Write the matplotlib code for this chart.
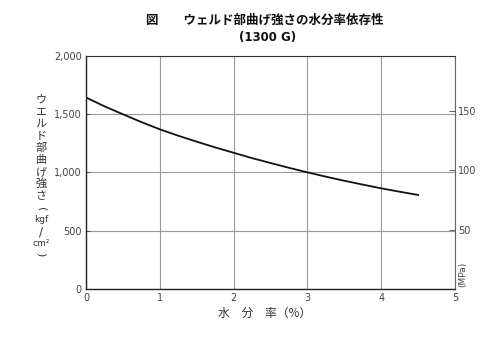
import matplotlib
matplotlib.use("Agg")
import matplotlib.pyplot as plt
from matplotlib.ticker import FixedLocator, FuncFormatter

plt.rcParams['font.family'] = ['Noto Sans CJK JP', 'DejaVu Sans']

# Data
moisture = [0, 0.25, 0.5, 0.75, 1.0, 1.25, 1.5, 1.75, 2.0, 2.25, 2.5, 2.75,
            3.0, 3.25, 3.5, 3.75, 4.0, 4.25, 4.5]
strength = [1642, 1566, 1498, 1431, 1369, 1314, 1263, 1214, 1168, 1122, 1080, 1039,
            1000, 963, 928, 895, 863, 834, 806]
x_ticks = [0, 1, 2, 3, 4, 5]
y_ticks = [0, 500, 1000, 1500, 2000]
mpa_ticks = [50, 100, 150]
KGF_TO_MPA = 0.0980665

title1 = "図　　ウェルド部曲げ強さの水分率依存性"
title2 = "(1300 G)"
xlabel = "水　分　率（%）"
ylabel_chars = ["ウ", "エ", "ル", "ド", "部", "曲", "げ", "強", "さ", "(", "kgf", "/", "cm²", ")"]
right_label = "(MPa)"

W, H = 500, 346
fig = plt.figure(figsize=(5.0, 3.46), dpi=100)
ax = fig.add_axes([86 / W, 1 - 289 / H, (455 - 86) / W, (289 - 55.7) / H])

ax.plot(moisture, strength, color='#111111', lw=1.3)
ax.set_xlim(0, 5)
ax.set_ylim(0, 2000)

grid_c = '#9a9a9a'
ax.xaxis.set_major_locator(FixedLocator(x_ticks))
ax.yaxis.set_major_locator(FixedLocator(y_ticks))
ax.yaxis.set_major_formatter(FuncFormatter(lambda v, p: f"{int(v):,}"))
ax.grid(True, color=grid_c, lw=0.8)
ax.tick_params(axis='both', colors='#444444', labelsize=7, length=3, width=0.6,
               direction='in', pad=3)
ax.tick_params(axis='x', length=0, pad=3)
for lab in ax.get_xticklabels() + ax.get_yticklabels():
    lab.set_family('DejaVu Sans')
for side in ['left', 'bottom']:
    ax.spines[side].set_color('#222222')
    ax.spines[side].set_linewidth(1.0)
ax.spines['top'].set_color('#333333')
ax.spines['top'].set_linewidth(0.8)
ax.spines['right'].set_color('#666666')
ax.spines['right'].set_linewidth(0.8)

# Right axis in MPa
ax2 = ax.twinx()
ax2.set_ylim(0, 2000 * KGF_TO_MPA)
ax2.yaxis.set_major_locator(FixedLocator(mpa_ticks))
ax2.tick_params(axis='y', colors='#444444', labelsize=7, length=4, width=0.6,
                direction='in', pad=2)
for lab in ax2.get_yticklabels():
    lab.set_family('DejaVu Sans')
for s in ax2.spines.values():
    s.set_visible(False)

# Titles
fig.text(265 / W, 1 - 20 / H, title1, ha='center', va='center', fontsize=9,
         fontweight='bold', color='#111111')
fig.text(268 / W, 1 - 37 / H, title2, ha='center', va='center', fontsize=8.5,
         fontweight='bold', color='#111111', family='DejaVu Sans')

# X label
fig.text(265 / W, 1 - 313 / H, xlabel, ha='center', va='center', fontsize=8.5,
         color='#333333')

# Vertical Y label (stacked characters; parentheses turned to run vertically)
ys = [100, 112, 124, 136, 148, 160, 172, 184, 196, 209, 220, 232, 243, 254]
for ch, yy in zip(ylabel_chars, ys):
    if ch in ("(", ")"):
        fig.text(41 / W, 1 - yy / H, ch, ha='center', va='center', fontsize=8,
                 rotation=-90, color='#333333', family='DejaVu Sans')
    elif ch in ("kgf", "cm²"):
        fig.text(41 / W, 1 - yy / H, ch, ha='center', va='center', fontsize=6.5,
                 color='#333333', family='DejaVu Sans')
    elif ch == "/":
        fig.text(41 / W, 1 - yy / H, ch, ha='center', va='center', fontsize=8.5,
                 color='#333333', family='DejaVu Sans')
    else:
        fig.text(41 / W, 1 - yy / H, ch, ha='center', va='center', fontsize=8,
                 color='#333333')

# Right label
fig.text(463 / W, 1 - 274 / H, right_label, ha='center', va='center', fontsize=6.5,
         rotation=90, color='#444444', family='DejaVu Sans')

fig.savefig('out.png', dpi=100)
